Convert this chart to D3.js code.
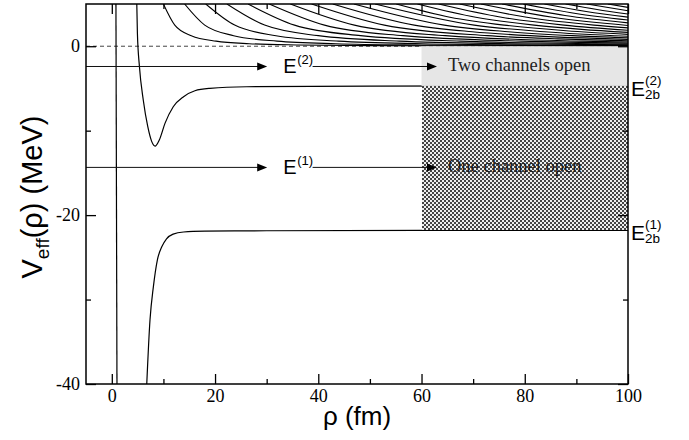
<!DOCTYPE html>
<html lang="en">
<meta charset="utf-8">
<style>
body { margin: 0; background: #fff; }
svg { display: block; }
</style>
<body>
<div id="chart"></div>
<script src="https://d3js.org/d3.v7.min.js"></script>
<script>
// axis ticks
var xMajor = [0, 20, 40, 60, 80, 100];
var xMinor = [10, 30, 50, 70, 90];
var yMajor = [-40, -20, 0];
var yMinor = [-30, -10];

// energies (MeV)
var E1 = -14.35, E2 = -2.4;
var E2b1 = -21.8, E2b2 = -4.7;
var boxStart = 60;

// potential curves, [rho (fm), V (MeV)]
var wallCurve = [[0.8, 5], [1.0, -40]];

var deepCurve = [[6.77, -40], [7.4, -32.4], [8.05, -28.5], [8.83, -25.3], [9.68, -23.75],
  [10.6, -22.8], [11.9, -22.25], [13.9, -22.0], [18, -21.9], [30, -21.85], [60, -21.8], [100, -21.8]];

var wellCurve = [[4.84, 5], [4.96, 1.5], [5.35, -2.4], [6.1, -6.4], [6.96, -9.5], [7.74, -11.3],
  [8.38, -11.83], [9.2, -11.1], [10.3, -9.14], [11.9, -7.17], [13.9, -5.98], [16.1, -5.27],
  [19.0, -4.99], [26.1, -4.8], [50, -4.72], [100, -4.7]];

var continuumCurves = [
  [[10.0, 5], [12.2, 2.5], [15.4, 1.25], [20.2, 0.6], [26.6, 0.3], [35.8, 0.15], [50.2, 0.07], [100, 0.016]],
  [[14.1, 5], [18.0, 2.5], [23.6, 1.25], [32.0, 0.6], [43.4, 0.3], [59.5, 0.15], [84.9, 0.07], [100, 0.05]],
  [[18.2, 5], [23.8, 2.5], [31.8, 1.25], [43.9, 0.6], [60.1, 0.3], [83.1, 0.15], [100, 0.102]],
  [[22.3, 5], [29.6, 2.5], [40.0, 1.25], [55.7, 0.6], [76.9, 0.3], [100, 0.172]],
  [[26.4, 5], [35.4, 2.5], [48.2, 1.25], [67.5, 0.6], [93.6, 0.3], [100, 0.261]],
  [[30.5, 5], [41.2, 2.5], [56.4, 1.25], [79.4, 0.6], [100, 0.369]],
  [[34.6, 5], [47.0, 2.5], [64.6, 1.25], [91.2, 0.6], [100, 0.494]],
  [[38.7, 5], [52.8, 2.5], [72.8, 1.25], [86.4, 0.87], [100, 0.639]],
  [[42.8, 5], [58.6, 2.5], [69.8, 1.72], [81.0, 1.25], [100, 0.802]],
  [[46.9, 5], [64.4, 2.5], [76.8, 1.72], [89.2, 1.25], [100, 0.983]],
  [[51.0, 5], [70.2, 2.5], [83.8, 1.72], [100, 1.183]],
  [[55.1, 5], [65.5, 3.44], [76.0, 2.5], [88.0, 1.83], [100, 1.401]],
  [[59.2, 5], [70.5, 3.43], [81.8, 2.5], [91.0, 2.0], [100, 1.638]],
  [[63.3, 5], [75.5, 3.43], [87.6, 2.5], [100, 1.893]],
  [[67.4, 5], [80.4, 3.43], [93.4, 2.5], [100, 2.167]],
  [[71.5, 5], [85.4, 3.43], [100, 2.459]],
  [[75.6, 5], [87.8, 3.64], [100, 2.770]],
  [[79.7, 5], [89.9, 3.88], [100, 3.099]],
  [[83.8, 5], [91.9, 4.12], [100, 3.446]],
  [[87.9, 5], [94.0, 4.35], [100, 3.812]],
  [[92.0, 5], [100, 4.196]],
  [[96.1, 5], [100, 4.600]]
];

var width = 689, height = 440;
var margin = {top: 4, right: 61, bottom: 56, left: 86};

var x = d3.scaleLinear().domain([-5, 100]).range([margin.left, width - margin.right]);
var y = d3.scaleLinear().domain([-40, 5]).range([height - margin.bottom, margin.top]);

var svg = d3.select("#chart").append("svg")
    .attr("width", width)
    .attr("height", height);

var defs = svg.append("defs");
defs.append("clipPath").attr("id", "plot")
  .append("rect")
    .attr("x", x(-5)).attr("y", y(5))
    .attr("width", x(100) - x(-5)).attr("height", y(-40) - y(5));

var pat = defs.append("pattern")
    .attr("id", "checker")
    .attr("width", 4).attr("height", 4)
    .attr("patternUnits", "userSpaceOnUse");
pat.append("rect").attr("width", 4).attr("height", 4).attr("fill", "#eeeeee");
pat.append("rect").attr("width", 2).attr("height", 2).attr("fill", "#444");
pat.append("rect").attr("x", 2).attr("y", 2).attr("width", 2).attr("height", 2).attr("fill", "#444");

var line = d3.line()
    .x(function(d) { return x(d[0]); })
    .y(function(d) { return y(d[1]); })
    .curve(d3.curveMonotoneX);

var plot = svg.append("g").attr("clip-path", "url(#plot)");

// zero threshold
plot.append("line")
    .attr("x1", x(-5)).attr("x2", x(100))
    .attr("y1", y(0)).attr("y2", y(0))
    .attr("stroke", "#444")
    .attr("stroke-width", 1)
    .attr("stroke-dasharray", "4,3");

plot.selectAll(".cont")
    .data(continuumCurves)
  .enter().append("path")
    .attr("class", "cont")
    .attr("d", line)
    .attr("fill", "none")
    .attr("stroke", "#000")
    .attr("stroke-width", 1.1);

[wallCurve, deepCurve, wellCurve].forEach(function(c) {
  plot.append("path")
      .attr("d", line(c))
      .attr("fill", "none")
      .attr("stroke", "#000")
      .attr("stroke-width", 1.2);
});

// channel regions
svg.append("rect")
    .attr("x", x(boxStart)).attr("y", y(0))
    .attr("width", x(100) - x(boxStart)).attr("height", y(E2b2) - y(0))
    .attr("fill", "#e6e6e6");

svg.append("rect")
    .attr("x", x(boxStart)).attr("y", y(E2b2))
    .attr("width", x(100) - x(boxStart)).attr("height", y(E2b1) - y(E2b2))
    .attr("fill", "url(#checker)")
    .attr("shape-rendering", "crispEdges");

// energy arrows
function arrow(x0, x1, yv) {
  var yy = y(yv), tip = x(x1);
  svg.append("line")
      .attr("x1", x(x0)).attr("x2", tip - 8)
      .attr("y1", yy).attr("y2", yy)
      .attr("stroke", "#111").attr("stroke-width", 1);
  svg.append("path")
      .attr("d", "M" + tip + "," + yy + "L" + (tip - 10) + "," + (yy - 4) + "L" + (tip - 10) + "," + (yy + 4) + "Z")
      .attr("fill", "#000");
}

function eLabel(xp, yv, sup) {
  var yy = y(yv);
  svg.append("text")
      .attr("x", xp).attr("y", yy + 7)
      .style("font", "20px 'Liberation Sans', Arial, sans-serif")
      .text("E");
  svg.append("text")
      .attr("x", xp + 14).attr("y", yy - 2)
      .style("font", "13px 'Liberation Sans', Arial, sans-serif")
      .text(sup);
}

[[E2, "(2)"], [E1, "(1)"]].forEach(function(e) {
  arrow(-5, 30.1, e[0]);
  eLabel(x(33.2), e[0], e[1]);
  arrow(38.9, 63, e[0]);
});

svg.append("text")
    .attr("x", x(63) + 11).attr("y", y(E2) + 5)
    .style("font", "18.5px 'Liberation Serif', 'Times New Roman', serif")
    .attr("fill", "#222")
    .text("Two channels open");

svg.append("text")
    .attr("x", x(63) + 11).attr("y", y(E1) + 5)
    .style("font", "18.5px 'Liberation Serif', 'Times New Roman', serif")
    .attr("fill", "#1a1a1a")
    .text("One channel open");

// two-body threshold labels on the right
[[E2b2, "(2)"], [E2b1, "(1)"]].forEach(function(e) {
  var yy = y(e[0]) + 10;
  svg.append("text")
      .attr("x", x(100) + 3).attr("y", yy)
      .style("font", "21px 'Liberation Sans', Arial, sans-serif")
      .text("E");
  svg.append("text")
      .attr("x", x(100) + 17).attr("y", yy - 11)
      .style("font", "13.5px 'Liberation Sans', Arial, sans-serif")
      .text(e[1]);
  svg.append("text")
      .attr("x", x(100) + 17).attr("y", yy + 3)
      .style("font", "13.5px 'Liberation Sans', Arial, sans-serif")
      .text("2b");
});

// axes, ticks pointing inward
var plain = function(d) { return String(d); };

function styleAxis(g) {
  g.select(".domain").remove();
  g.selectAll("line").attr("stroke-width", 1.3);
  g.selectAll("text")
      .attr("fill", "#000")
      .style("font", "18px 'Liberation Serif', 'Times New Roman', serif");
}

svg.append("g")
    .attr("transform", "translate(0," + y(-40) + ")")
    .call(d3.axisBottom(x).tickValues(xMajor).tickFormat(plain).tickSizeInner(-10).tickSizeOuter(0).tickPadding(5))
    .call(styleAxis);
svg.append("g")
    .attr("transform", "translate(0," + y(-40) + ")")
    .call(d3.axisBottom(x).tickValues(xMinor).tickSizeInner(-5).tickSizeOuter(0).tickFormat(""))
    .call(styleAxis);
svg.append("g")
    .attr("transform", "translate(0," + y(5) + ")")
    .call(d3.axisTop(x).tickValues(xMajor).tickSizeInner(-10).tickSizeOuter(0).tickFormat(""))
    .call(styleAxis);
svg.append("g")
    .attr("transform", "translate(0," + y(5) + ")")
    .call(d3.axisTop(x).tickValues(xMinor).tickSizeInner(-5).tickSizeOuter(0).tickFormat(""))
    .call(styleAxis);

svg.append("g")
    .attr("transform", "translate(" + x(-5) + ",0)")
    .call(d3.axisLeft(y).tickValues(yMajor).tickFormat(plain).tickSizeInner(-10).tickSizeOuter(0).tickPadding(6))
    .call(styleAxis);
svg.append("g")
    .attr("transform", "translate(" + x(-5) + ",0)")
    .call(d3.axisLeft(y).tickValues(yMinor).tickSizeInner(-5).tickSizeOuter(0).tickFormat(""))
    .call(styleAxis);
svg.append("g")
    .attr("transform", "translate(" + x(100) + ",0)")
    .call(d3.axisRight(y).tickValues(yMajor).tickSizeInner(-10).tickSizeOuter(0).tickFormat(""))
    .call(styleAxis);
svg.append("g")
    .attr("transform", "translate(" + x(100) + ",0)")
    .call(d3.axisRight(y).tickValues(yMinor).tickSizeInner(-5).tickSizeOuter(0).tickFormat(""))
    .call(styleAxis);

// frame
svg.append("rect")
    .attr("x", x(-5)).attr("y", y(5))
    .attr("width", x(100) - x(-5)).attr("height", y(-40) - y(5))
    .attr("fill", "none")
    .attr("stroke", "#000")
    .attr("stroke-width", 1.5);

// axis titles
svg.append("text")
    .attr("x", (x(-5) + x(100)) / 2).attr("y", 425)
    .attr("text-anchor", "middle")
    .style("font", "26px 'Liberation Sans', Arial, sans-serif")
    .text("ρ (fm)");

var yl = svg.append("text")
    .attr("transform", "translate(42," + ((y(5) + y(-40)) / 2 + 3) + ") rotate(-90)")
    .attr("text-anchor", "middle")
    .style("font", "29px 'Liberation Sans', Arial, sans-serif");
yl.append("tspan").text("V");
yl.append("tspan").attr("dy", 7).style("font-size", "19px").text("eff");
yl.append("tspan").attr("dy", -7).text("(ρ) (MeV)");
</script>
</body>
</html>
